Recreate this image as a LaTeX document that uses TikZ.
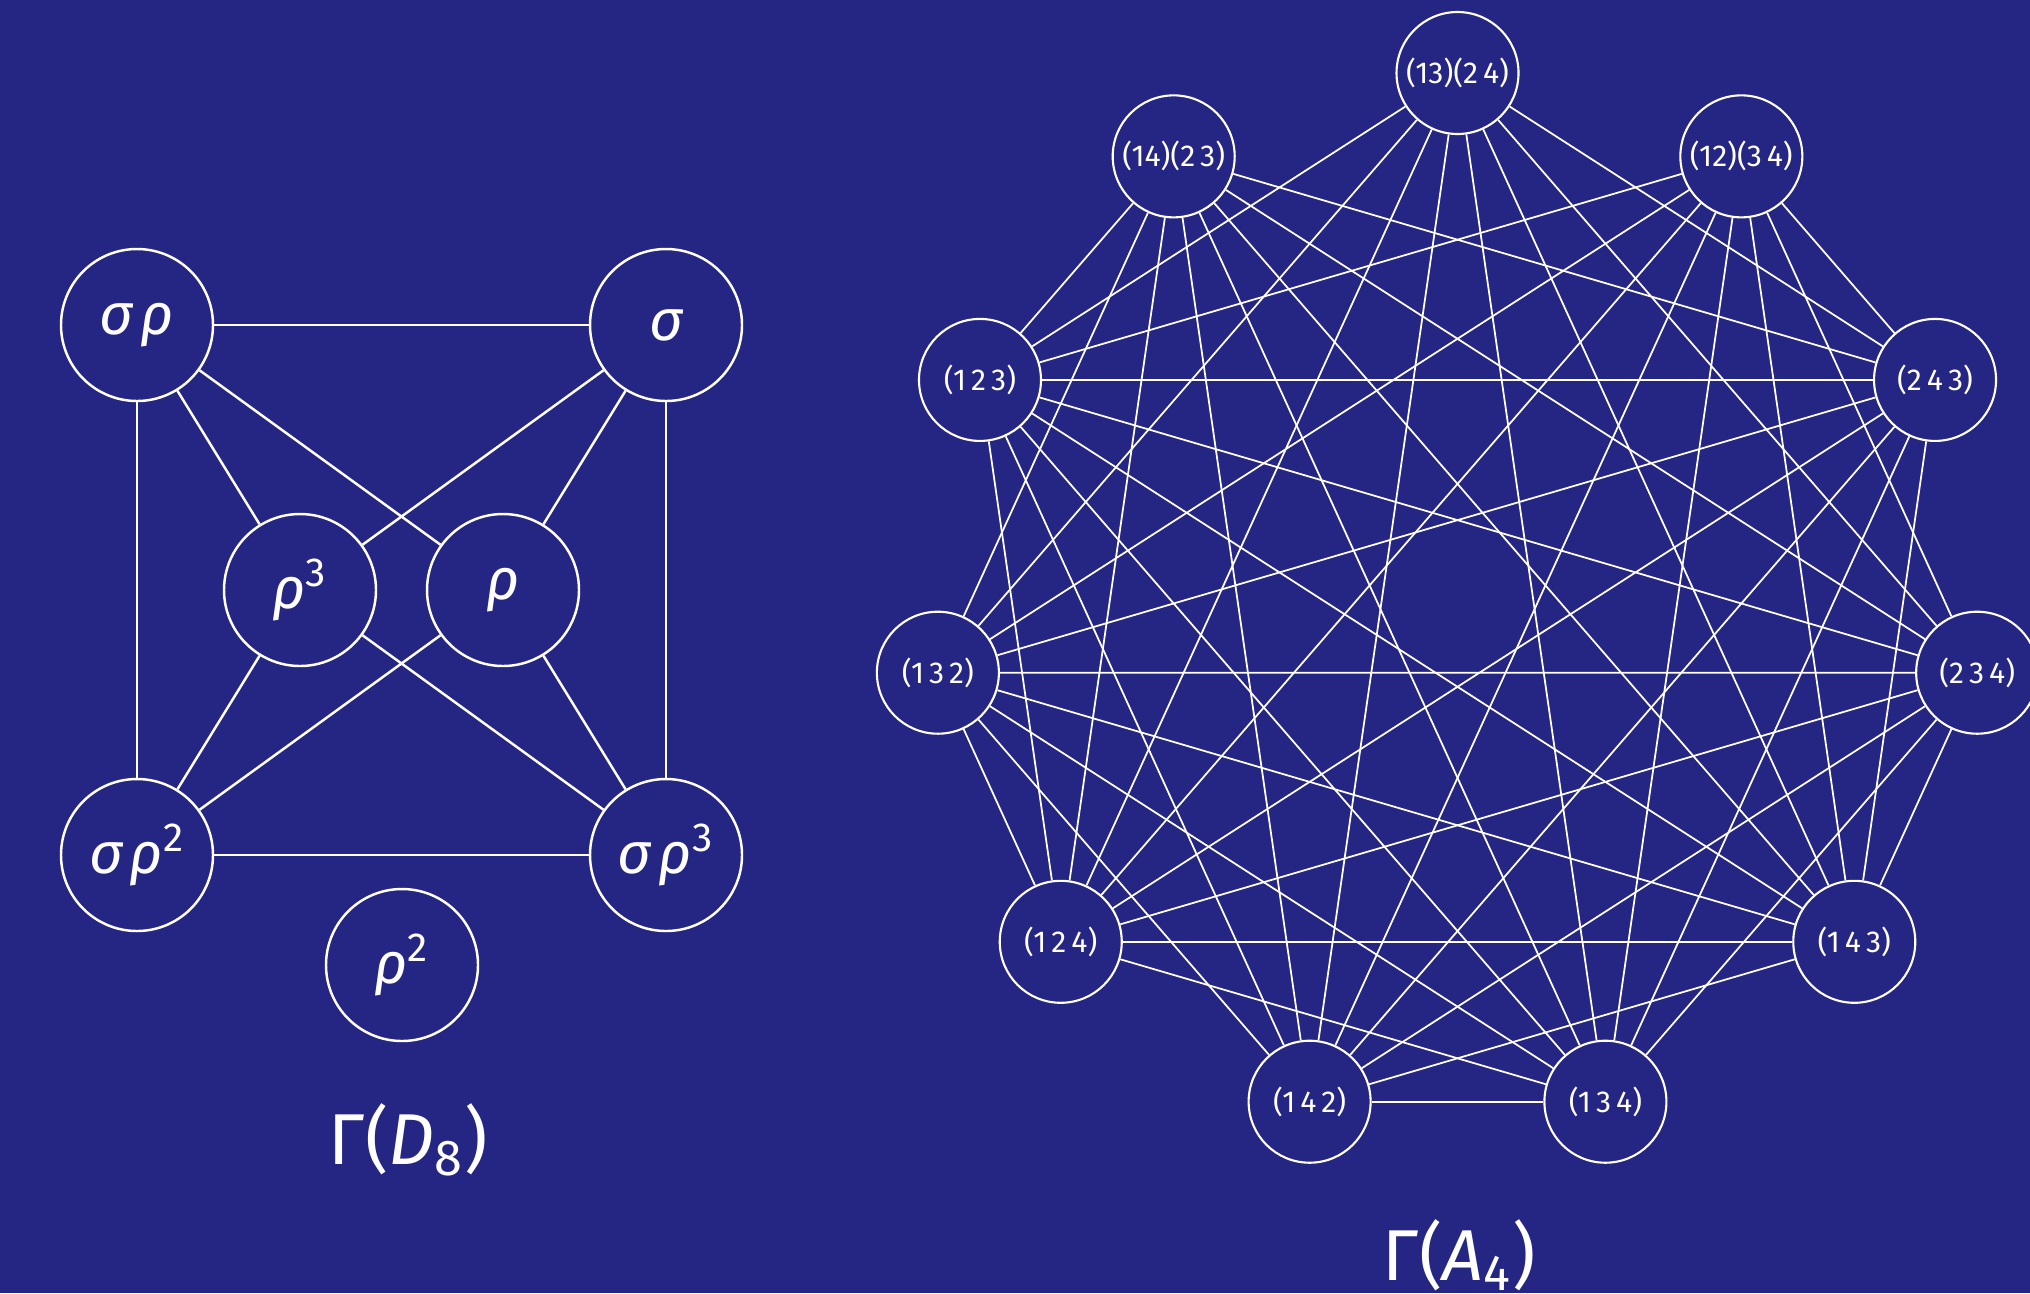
\documentclass[tikz,border=0pt]{standalone}
\usepackage{fontspec}
\setmainfont{Fira Sans}
\definecolor{bgblue}{RGB}{37,38,131}
\newcommand{\pw}[1]{\textsuperscript{\upshape #1}}

\begin{document}
\begin{tikzpicture}[
  dvtx/.style={circle, draw=white, line width=0.7pt, minimum size=1.52cm, inner sep=0pt, text=white, font=\fontsize{16.5}{19}\selectfont\itshape},
  avtx/.style={circle, draw=white, line width=0.6pt, minimum size=1.22cm, inner sep=0pt, text=white, font=\fontsize{8.6}{10}\selectfont},
  dedge/.style={draw=white, line width=0.7pt},
  aedge/.style={draw=white, line width=0.5pt},
  gname/.style={text=white, font=\fontsize{20.5}{24}\selectfont}
]
\fill[bgblue] (0,0) rectangle (20.3,-12.93);
\useasboundingbox (0,0) rectangle (20.3,-12.93);

% Gamma(D_8)
\node[dvtx] (sr)  at (1.37,-3.25) {σ\kern.12emρ};
\node[dvtx] (s)   at (6.66,-3.25) {σ};
\node[dvtx] (r3)  at (3.00,-5.90) {ρ\pw{3}};
\node[dvtx] (r)   at (5.03,-5.90) {ρ};
\node[dvtx] (sr2) at (1.37,-8.55) {σ\kern.12emρ\pw{2}};
\node[dvtx] (sr3) at (6.66,-8.55) {σ\kern.12emρ\pw{3}};
\node[dvtx] (r2)  at (4.02,-9.65) {ρ\pw{2}};
\node[gname] (gd) at (4.08,-11.40) {Γ(\textit{D}\textsubscript{8})};

\draw[dedge] (sr) -- (s);
\draw[dedge] (sr2) -- (sr3);
\draw[dedge] (sr) -- (sr2);
\draw[dedge] (s) -- (sr3);
\foreach \a in {sr,s,sr2,sr3}
  \foreach \b in {r,r3}
    \draw[dedge] (\a) -- (\b);

% Gamma(A_4)
\begin{scope}[shift={(14.575,-5.98)}]
\foreach \lab [count=\k from 0] in {{(13)(2\,4)},{(14)(2\,3)},{(1\,2\,3)},{(1\,3\,2)},{(1\,2\,4)},{(1\,4\,2)},{(1\,3\,4)},{(1\,4\,3)},{(2\,3\,4)},{(2\,4\,3)},{(12)(3\,4)}}
  \node[avtx] (a\k) at ({90+\k*360/11}:5.25) {\lab};
\end{scope}
\node[gname] (ga) at (14.59,-12.55) {Γ(\textit{A}\textsubscript{4})};

\foreach \i in {0,...,9} {
  \pgfmathtruncatemacro\nxt{\i+1}
  \foreach \j in {\nxt,...,10} {
    \pgfmathtruncatemacro\nope{((\i<2)&&((\j<2)||(\j==10)))||((\j==\i+1)&&(mod(\i,2)==0)&&(\i>1))}
    \ifnum\nope=0 \draw[aedge] (a\i) -- (a\j); \fi
  }
}
\end{tikzpicture}
\end{document}
